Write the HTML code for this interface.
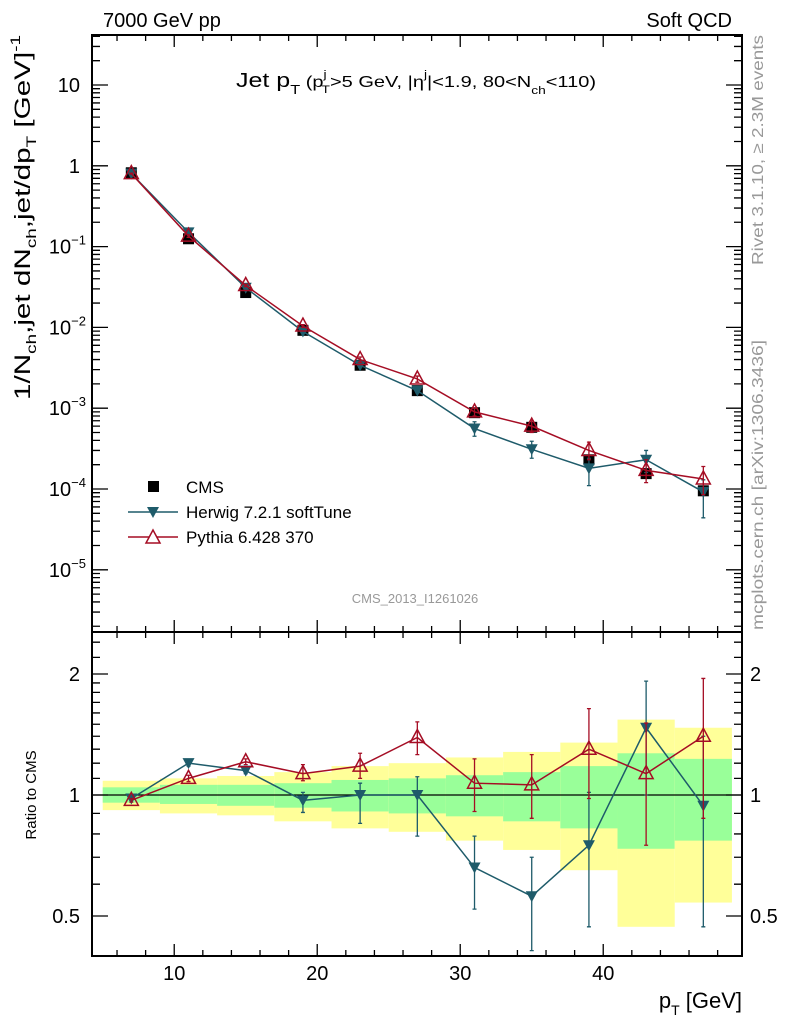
<!DOCTYPE html>
<html><head><meta charset="utf-8">
<style>
html,body{margin:0;padding:0;background:#fff}
svg{display:block;font-family:"Liberation Sans",sans-serif}
</style></head>
<body>
<svg id="c" width="786" height="1024" viewBox="0 0 786 1024" xmlns="http://www.w3.org/2000/svg">
<text x="103" y="27" font-size="20">7000 GeV pp</text>
<text x="732" y="27" font-size="20" text-anchor="end">Soft QCD</text>
<text x="236" y="87" font-size="20" textLength="360" lengthAdjust="spacingAndGlyphs">Jet p<tspan font-size="13" dy="7">T</tspan><tspan dy="-7" font-size="16"> (p</tspan><tspan font-size="11" dy="-9">j</tspan><tspan font-size="11" dy="15" dx="-4">T</tspan><tspan font-size="16" dy="-6">&gt;5 GeV, |η</tspan><tspan font-size="11" dy="-9">j</tspan><tspan font-size="16" dy="9">|&lt;1.9, 80&lt;N</tspan><tspan font-size="11" dy="7">ch</tspan><tspan font-size="16" dy="-7">&lt;110)</tspan></text>
<text transform="translate(30,400) rotate(-90)" font-size="22" textLength="365" lengthAdjust="spacingAndGlyphs">1/N<tspan font-size="14" dy="6">ch</tspan><tspan dy="-6">,jet dN</tspan><tspan font-size="14" dy="6">ch</tspan><tspan dy="-6">,jet/dp</tspan><tspan font-size="14" dy="6">T</tspan><tspan dy="-6"> [GeV]</tspan><tspan font-size="14" dy="-10">-1</tspan></text>
<text transform="translate(36,795) rotate(-90)" font-size="15" text-anchor="middle">Ratio to CMS</text>
<text x="742" y="1008" font-size="22" text-anchor="end">p<tspan font-size="14" dy="7">T</tspan><tspan dy="-7"> [GeV]</tspan></text>
<text transform="translate(763,265) rotate(-90)" font-size="16" fill="#999" textLength="230" lengthAdjust="spacingAndGlyphs">Rivet 3.1.10, ≥ 2.3M events</text>
<text transform="translate(763,630) rotate(-90)" font-size="16" fill="#999" textLength="290" lengthAdjust="spacingAndGlyphs">mcplots.cern.ch [arXiv:1306.3436]</text>
<text x="415" y="603" font-size="13" fill="#999" text-anchor="middle">CMS_2013_I1261026</text>
<g id="bands"></g>
<g id="main"></g>
<g id="ratio"></g>
<g id="axes"></g>
<g id="legend">
<rect x="148" y="481" width="11" height="11" fill="#000"/>
<text x="186" y="493" font-size="17">CMS</text>
<line x1="128" y1="512" x2="178" y2="512" stroke="#1e5b6a" stroke-width="1.5"/>
<polygon points="147,507 159,507 153,518" fill="#1e5b6a"/>
<text x="186" y="518" font-size="17">Herwig 7.2.1 softTune</text>
<line x1="128" y1="537" x2="178" y2="537" stroke="#a50d24" stroke-width="1.5"/>
<polygon points="153,530 160,543 146,543" fill="#fff" stroke="#a50d24" stroke-width="1.5"/>
<text x="186" y="543" font-size="17">Pythia 6.428 370</text>
</g>
</svg>
<script>
const xs=[7,11,15,19,23,27,31,35,39,43,47];
const cms=[0.82,0.125,0.027,0.0092,0.0034,0.00165,0.00088,0.00058,0.00023,0.000155,0.000095];
const herwig=[0.80,0.15,0.031,0.0089,0.0034,0.00165,0.00056,0.00031,0.00018,0.00023,0.000092];
const herwigLo=[0.79,0.145,0.030,0.0086,0.0032,0.00155,0.00045,0.00024,0.00011,0.00016,0.000044];
const herwigHi=[0.81,0.155,0.032,0.0093,0.0036,0.00175,0.00068,0.00039,0.00024,0.00030,0.00013];
const pythia=[0.80,0.135,0.033,0.0104,0.0040,0.0023,0.00090,0.00060,0.00030,0.00017,0.000133];
const pythiaLo=[0.79,0.13,0.032,0.0100,0.0037,0.0021,0.00080,0.00050,0.00023,0.00012,0.000085];
const pythiaHi=[0.81,0.14,0.034,0.0108,0.0043,0.0025,0.00100,0.00070,0.00038,0.00023,0.00019];
const herwigR=[0.98,1.2,1.15,0.97,1.0,1.0,0.66,0.56,0.75,1.47,0.94];
const herwigRLo=[0.97,1.18,1.13,0.905,0.85,0.79,0.52,0.41,0.47,1.0,0.47];
const herwigRHi=[0.99,1.22,1.17,1.015,1.07,1.11,0.79,0.70,1.015,1.92,1.4];
const pythiaR=[0.97,1.10,1.21,1.13,1.18,1.39,1.07,1.06,1.30,1.13,1.40];
const pythiaRLo=[0.96,1.08,1.19,1.085,1.10,1.26,0.91,0.875,0.98,0.75,0.875];
const pythiaRHi=[0.98,1.12,1.23,1.19,1.27,1.52,1.23,1.26,1.64,1.51,1.95];
const binLo=[5,9,13,17,21,25,29,33,37,41,45];
const binHi=[9,13,17,21,25,29,33,37,41,45,49];
const yelHi=[1.085,1.10,1.115,1.14,1.18,1.20,1.24,1.28,1.35,1.54,1.47];
const yelLo=[0.917,0.90,0.89,0.86,0.826,0.81,0.77,0.73,0.65,0.47,0.54];
const grnHi=[1.045,1.06,1.06,1.07,1.09,1.10,1.12,1.14,1.18,1.27,1.23];
const grnLo=[0.957,0.95,0.94,0.93,0.91,0.90,0.885,0.86,0.826,0.735,0.77];
const mainTicks=["10","1","10","10","10","10","10"];
const mainExp=["","","−1","−2","−3","−4","−5"];
const ratioTicks=["0.5","1","2"];
const xTicks=["10","20","30","40"];

const NS="http://www.w3.org/2000/svg";
const L=92,R=742,T=35,M=632,B=956;
const X=v=>L+(v-4.25)*14.3;
const Y=v=>85-(Math.log10(v)-1)*80.8;
const YR=v=>795-Math.log2(v)*121;
function mk(p,t,a){const e=document.createElementNS(NS,t);for(const k in a)e.setAttribute(k,a[k]);p.appendChild(e);return e;}
const bands=document.getElementById('bands'),main=document.getElementById('main'),ratio=document.getElementById('ratio'),axes=document.getElementById('axes');
for(let i=0;i<binLo.length;i++){
 let r=mk(bands,'rect',{x:X(binLo[i]),y:YR(yelHi[i]),width:X(binHi[i])-X(binLo[i]),height:YR(yelLo[i])-YR(yelHi[i]),fill:'#ffff99'});
 
 
 let g=mk(bands,'rect',{x:X(binLo[i]),y:YR(grnHi[i]),width:X(binHi[i])-X(binLo[i]),height:YR(grnLo[i])-YR(grnHi[i]),fill:'#99ff99'});
 
 
}
let ref=mk(ratio,'line',{x1:L,x2:R,y1:YR(1),y2:YR(1),stroke:'#000','stroke-width':1.3});


function series(g,yf,vals,lo,hi,col,kind,name){
 let pl=mk(g,'polyline',{points:xs.map((x,i)=>X(x)+','+yf(vals[i])).join(' '),fill:'none',stroke:col,'stroke-width':1.5});
 
 
 xs.forEach((x,i)=>{
  const cx=X(x),cy=yf(vals[i]),y1=yf(hi[i]),y2=yf(lo[i]);
  let e=mk(g,'path',{d:`M${cx},${y1}V${y2}M${cx-2},${y1}h4M${cx-2},${y2}h4`,stroke:col,'stroke-width':1.3,fill:'none'});
  
  
  let m;
  if(kind==='down')m=mk(g,'polygon',{points:`${cx-6},${cy-5} ${cx+6},${cy-5} ${cx},${cy+6}`,fill:col});
  else m=mk(g,'polygon',{points:`${cx},${cy-8} ${cx+7},${cy+5} ${cx-7},${cy+5}`,fill:'none',stroke:col,'stroke-width':1.5});
  
  
 });
}
xs.forEach((x,i)=>{
 let m=mk(main,'rect',{x:X(x)-5.5,y:Y(cms[i])-5.5,width:11,height:11,fill:'#000'});
 
 
});
series(main,Y,herwig,herwigLo,herwigHi,'#1e5b6a','down','herwig');
series(main,Y,pythia,pythiaLo,pythiaHi,'#a50d24','up','pythia');
series(ratio,YR,herwigR,herwigRLo,herwigRHi,'#1e5b6a','down','herwig-ratio');
series(ratio,YR,pythiaR,pythiaRLo,pythiaRHi,'#a50d24','up','pythia-ratio');
[[T,M,'main-frame'],[M,B,'ratio-frame']].forEach(f=>{
 let r=mk(axes,'rect',{x:L,y:f[0],width:R-L,height:f[1]-f[0],fill:'none',stroke:'#000','stroke-width':2});
 
 
});
let d='';
for(let v=5;v<=49;v+=1){const x=X(v);if(x<=L||x>=R)continue;const len=v%10===0?12:(v%2===0?6:0);if(!len)continue;
 d+=`M${x},${T}v${len}M${x},${M}v${-len}M${x},${M}v${len}M${x},${B}v${-len}`;}
for(let e=-6;e<=1;e++)for(let k=1;k<=9;k++){const y=Y(k*Math.pow(10,e));if(y<=T||y>=M)continue;const len=k===1?16:8;d+=`M${L},${y}h${len}M${R},${y}h${-len}`;}
[0.5,0.6,0.7,0.8,0.9,1,1.1,1.2,1.3,1.4,1.5,1.6,1.7,1.8,1.9,2,2.2,2.4].forEach(v=>{const y=YR(v);if(y<=M||y>=B)return;const len=(v===0.5||v===1||v===2)?16:8;d+=`M${L},${y}h${len}M${R},${y}h${-len}`;});
let tk=mk(axes,'path',{d:d,stroke:'#000','stroke-width':1.3,fill:'none'});


mainTicks.forEach((t,i)=>{
 const y=Y(Math.pow(10,1-i));
 let tx=mk(axes,'text',{x:80,y:y+7,'font-size':20,'text-anchor':'end'});
 tx.textContent=t;
 if(mainExp[i]){let s=mk(tx,'tspan',{'font-size':13,dy:-9});s.textContent=mainExp[i];tx.setAttribute('x',86);}
 
 
});
ratioTicks.forEach(t=>{
 const y=YR(parseFloat(t));
 let a=mk(axes,'text',{x:80,y:y+7,'font-size':20,'text-anchor':'end'});a.textContent=t;
 
 
 let b=mk(axes,'text',{x:750,y:y+7,'font-size':20});b.textContent=t;
 
 
});
xTicks.forEach(t=>{
 let a=mk(axes,'text',{x:X(parseFloat(t)),y:980,'font-size':20,'text-anchor':'middle'});a.textContent=t;
 
 
});
</script>
</body></html>
